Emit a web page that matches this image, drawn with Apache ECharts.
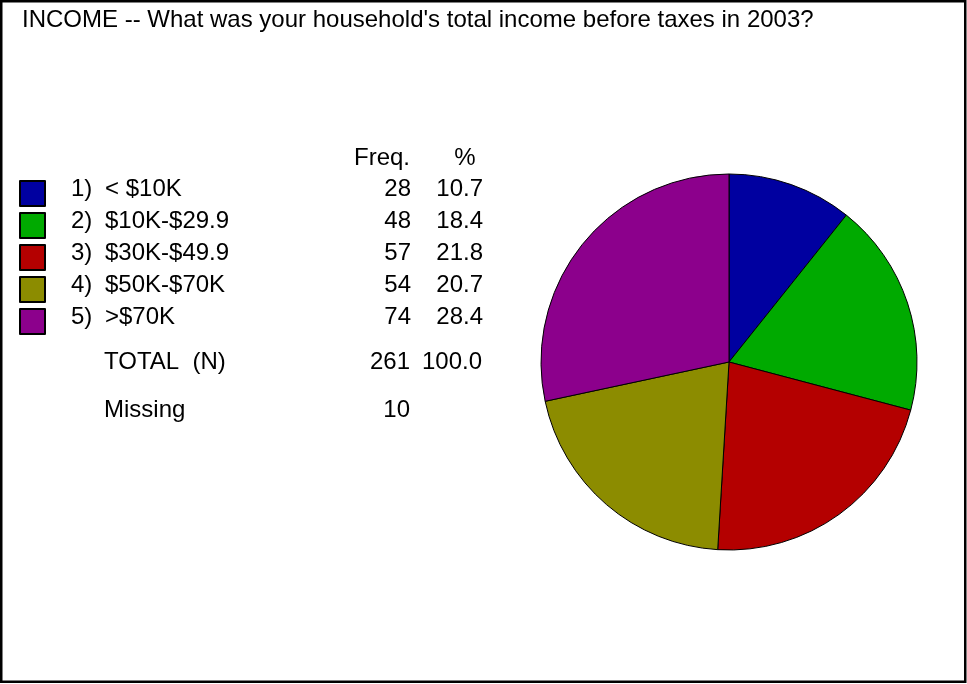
<!DOCTYPE html>
<html>
<head>
<meta charset="utf-8">
<title>INCOME</title>
<script src="https://cdn.jsdelivr.net/npm/echarts@6/dist/echarts.min.js"></script>
<style>
  html, body { margin: 0; padding: 0; background: #ffffff; }
  #chart { width: 967px; height: 684px; }
</style>
</head>
<body>
<div id="chart"></div>
<script>
// Household income before taxes, 2003
const titleText = "INCOME -- What was your household's total income before taxes in 2003?";
const categories = ['< $10K', '$10K-$29.9', '$30K-$49.9', '$50K-$70K', '>$70K'];
const frequencies = [28, 48, 57, 54, 74];
const missingCount = 10;
const sliceColors = ['#0000a0', '#00aa00', '#b40000', '#8c8c00', '#8c008c'];

const FONT = '"Liberation Sans", Arial, sans-serif';
const FS = 24;
const total = frequencies.reduce((a, b) => a + b, 0);
const pct = v => (v / total * 100).toFixed(1);

const chart = echarts.init(document.getElementById('chart'), null, { renderer: 'canvas' });

const seg = extra => Object.assign({ fontSize: FS, fontFamily: FONT, color: '#000', lineHeight: 16 }, extra);
const rowRich = {
  s: seg({ width: 21 }),
  n: seg({ width: 34 }),
  l: seg({ width: 250 }),
  f: seg({ width: 56, align: 'right' }),
  p: seg({ width: 72, align: 'right' })
};

function label(text, x, y, align) {
  return {
    type: 'text', x: x, y: y, silent: true,
    style: { text: text, font: FS + 'px ' + FONT, fill: '#000', textAlign: align || 'left', textVerticalAlign: 'middle' }
  };
}

chart.setOption({
  animation: false,
  backgroundColor: '#ffffff',
  legend: {
    orient: 'vertical',
    left: 19,
    top: 177,
    padding: 0,
    itemWidth: 25,
    itemHeight: 25,
    itemGap: 2,
    icon: 'rect',
    selectedMode: false,
    textStyle: { rich: rowRich, padding: [0, 0, 9, 0], lineHeight: 16 },
    formatter: function (name) {
      const i = categories.indexOf(name);
      return '{s|}{n|' + (i + 1) + ')}{l|' + name + '}{f|' + frequencies[i] + '}{p|' + pct(frequencies[i]) + '}';
    }
  },
  graphic: [
    {
      type: 'rect', silent: true,
      shape: { x: 1.25, y: 1.25, width: 964, height: 680.5 },
      style: { fill: 'none', stroke: '#000', lineWidth: 2.5 }
    },
    label(titleText, 22, 20),
    label('Freq.', 410, 158, 'right'),
    label('%', 465, 158, 'center'),
    label('TOTAL  (N)', 104, 362),
    label(String(total), 410, 362, 'right'),
    label((100).toFixed(1), 482, 362, 'right'),
    label('Missing', 104, 410),
    label(String(missingCount), 410, 410, 'right')
  ],
  series: [{
    type: 'pie',
    center: [729, 362],
    radius: 188,
    startAngle: 90,
    clockwise: true,
    label: { show: false },
    labelLine: { show: false },
    emphasis: { disabled: true },
    itemStyle: { borderColor: '#000', borderWidth: 1 },
    data: categories.map((c, i) => ({ name: c, value: frequencies[i], itemStyle: { color: sliceColors[i] } }))
  }]
});
</script>
</body>
</html>
